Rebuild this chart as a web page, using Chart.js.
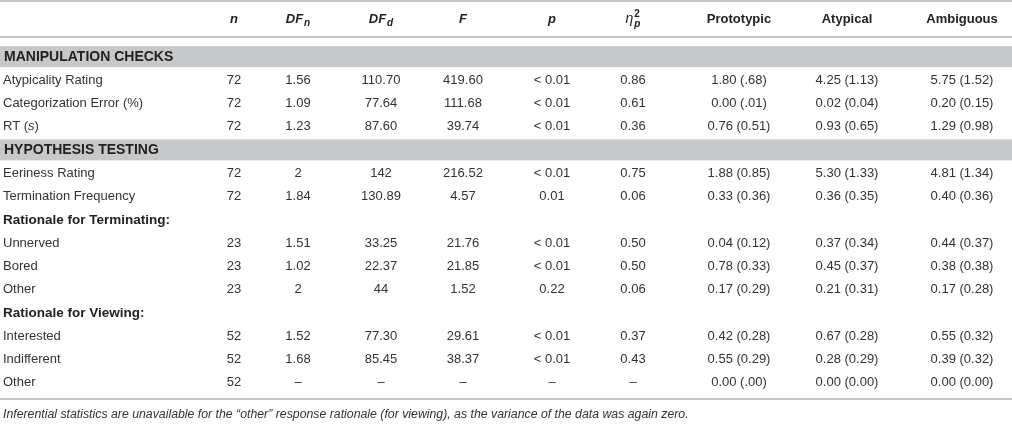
<!DOCTYPE html>
<html>
<head>
<meta charset="utf-8">
<script src="https://cdn.jsdelivr.net/npm/chart.js@4.4.1/dist/chart.umd.min.js"></script>
<style>
  html, body { margin: 0; padding: 0; background: #fff; }
  #wrap { width: 1012px; height: 427px; position: relative; }
</style>
</head>
<body>
<div id="wrap"><canvas id="tbl"></canvas></div>
<script>
// Column headers (markup: _ = subscript, ^ = superscript)
const headerLabels = ['n', 'DF_n', 'DF_d', 'F', 'p', 'η_p^2', 'Prototypic', 'Atypical', 'Ambiguous'];
const headerItalic = [true, true, true, true, true, true, false, false, false];

const sectionTitles = ['MANIPULATION CHECKS', 'HYPOTHESIS TESTING'];

// Row labels (*text* = italic)
const rowNames = [
  'Atypicality Rating', 'Categorization Error (%)', 'RT (*s*)',
  'Eeriness Rating', 'Termination Frequency',
  'Rationale for Terminating:', 'Unnerved', 'Bored', 'Other',
  'Rationale for Viewing:', 'Interested', 'Indifferent', 'Other'
];

const nVals     = ['72', '72', '72', '72', '72', '', '23', '23', '23', '', '52', '52', '52'];
const dfnVals   = ['1.56', '1.09', '1.23', '2', '1.84', '', '1.51', '1.02', '2', '', '1.52', '1.68', '–'];
const dfdVals   = ['110.70', '77.64', '87.60', '142', '130.89', '', '33.25', '22.37', '44', '', '77.30', '85.45', '–'];
const fVals     = ['419.60', '111.68', '39.74', '216.52', '4.57', '', '21.76', '21.85', '1.52', '', '29.61', '38.37', '–'];
const pVals     = ['< 0.01', '< 0.01', '< 0.01', '< 0.01', '0.01', '', '< 0.01', '< 0.01', '0.22', '', '< 0.01', '< 0.01', '–'];
const etaVals   = ['0.86', '0.61', '0.36', '0.75', '0.06', '', '0.50', '0.50', '0.06', '', '0.37', '0.43', '–'];
const protoVals = ['1.80 (.68)', '0.00 (.01)', '0.76 (0.51)', '1.88 (0.85)', '0.33 (0.36)', '', '0.04 (0.12)', '0.78 (0.33)', '0.17 (0.29)', '', '0.42 (0.28)', '0.55 (0.29)', '0.00 (.00)'];
const atypVals  = ['4.25 (1.13)', '0.02 (0.04)', '0.93 (0.65)', '5.30 (1.33)', '0.36 (0.35)', '', '0.37 (0.34)', '0.45 (0.37)', '0.21 (0.31)', '', '0.67 (0.28)', '0.28 (0.29)', '0.00 (0.00)'];
const ambVals   = ['5.75 (1.52)', '0.20 (0.15)', '1.29 (0.98)', '4.81 (1.34)', '0.40 (0.36)', '', '0.44 (0.37)', '0.38 (0.38)', '0.17 (0.28)', '', '0.55 (0.32)', '0.39 (0.32)', '0.00 (0.00)'];

const footnote = 'Inferential statistics are unavailable for the “other” response rationale (for viewing), as the variance of the data was again zero.';

// --- layout ---
const FONT = '"Liberation Sans", Arial, Helvetica, sans-serif';
const TEXT = '#333333';
const RULE = '#c6c6c6';
const BAND = '#c7c8ca';
const colX = [234, 298, 381, 463, 552, 633, 739, 847, 962];
const labelX = 3;
// y axis runs in row slots; section bands take slots -1 and 3
const sectionSlots = [-1, 3];
const rowSlot = i => (i < 3 ? i : i + 1);
const headerSlot = -2.62;
const ruleSlots = [-3.39, -1.845, 13.71];
const footSlot = 14.36;

const columns = [nVals, dfnVals, dfdVals, fVals, pVals, etaVals, protoVals, atypVals, ambVals];

const datasets = [{
  label: 'rows',
  data: rowNames.map((t, i) => ({ x: labelX, y: rowSlot(i), text: t })),
  align: 'left'
}].concat(columns.map((vals, c) => ({
  label: headerLabels[c],
  data: vals.map((t, i) => ({ x: colX[c], y: rowSlot(i), text: t })),
  align: 'center'
})));

function font(size, bold, italic) {
  return `${italic ? 'italic ' : ''}${bold ? 'bold ' : ''}${size}px ${FONT}`;
}

// draws "*italic*" markup text
function drawRich(ctx, str, x, y, size, bold, align) {
  const parts = str.split('*').map((t, k) => ({ t, it: k % 2 === 1 })).filter(p => p.t);
  let w = 0;
  parts.forEach(p => { ctx.font = font(size, bold, p.it); p.w = ctx.measureText(p.t).width; w += p.w; });
  let cx = align === 'left' ? x : x - w / 2;
  ctx.textAlign = 'left';
  parts.forEach(p => { ctx.font = font(size, bold, p.it); ctx.fillText(p.t, cx, y); cx += p.w; });
}

function drawHeader(ctx, label, italic, x, y) {
  const m = label.match(/^([^_^]+)(?:_([^_^]+))?(?:\^(.+))?$/);
  const base = m[1], sub = m[2], sup = m[3];
  const isEta = base === 'η';
  const bf = font(isEta ? 14 : 13, !isEta, italic);
  const sf = font(10, true, italic);
  const supf = font(10, true, false);
  ctx.font = bf; const bw = ctx.measureText(base).width;
  let sw = 0;
  if (sub) { ctx.font = sf; sw = Math.max(sw, ctx.measureText(sub).width); }
  if (sup) { ctx.font = supf; sw = Math.max(sw, ctx.measureText(sup).width); }
  const gap = sub || sup ? 1 : 0;
  let cx = x - (bw + gap + sw) / 2;
  ctx.textAlign = 'left';
  ctx.font = bf; ctx.fillText(base, cx, y);
  cx += bw + gap;
  if (sub) { ctx.font = sf; ctx.fillText(sub, cx, y + (sup ? 5 : 4)); }
  if (sup) { ctx.font = supf; ctx.fillText(sup, cx, y - 5); }
}

const tablePlugin = {
  id: 'tablePlugin',
  beforeDatasetsDraw(chart) {
    const { ctx, scales: { y }, width } = chart;
    ctx.save();
    ctx.fillStyle = '#fff';
    ctx.fillRect(0, 0, width, chart.height);
    // section bands
    sectionSlots.forEach((s, k) => {
      const top = y.getPixelForValue(s - 0.45);
      const bot = y.getPixelForValue(s + 0.45);
      ctx.fillStyle = BAND;
      ctx.fillRect(0, top, width, bot - top);
      ctx.fillStyle = '#222';
      ctx.textBaseline = 'middle';
      ctx.textAlign = 'left';
      ctx.font = font(14, true, false);
      ctx.fillText(sectionTitles[k], labelX + 1, y.getPixelForValue(s) + 0.5);
    });
    // horizontal rules
    ctx.strokeStyle = RULE;
    ctx.lineWidth = 2;
    ruleSlots.forEach(s => {
      const py = Math.round(y.getPixelForValue(s));
      ctx.beginPath(); ctx.moveTo(0, py); ctx.lineTo(width, py); ctx.stroke();
    });
    ctx.restore();
  },
  afterDatasetsDraw(chart) {
    const { ctx, scales: { y } } = chart;
    ctx.save();
    ctx.textBaseline = 'middle';
    ctx.fillStyle = '#222';
    const hy = y.getPixelForValue(headerSlot);
    headerLabels.forEach((h, c) => drawHeader(ctx, h, headerItalic[c], colX[c], hy));
    chart.data.datasets.forEach((ds, d) => {
      const meta = chart.getDatasetMeta(d);
      meta.data.forEach((el, i) => {
        const t = ds.data[i].text;
        if (!t) return;
        const bold = d === 0 && t.endsWith(':');
        ctx.fillStyle = bold ? '#222' : TEXT;
        drawRich(ctx, t, el.x, el.y, bold ? 13.5 : 13, bold, ds.align);
      });
    });
    ctx.fillStyle = TEXT;
    ctx.textAlign = 'left';
    ctx.font = font(12.3, false, true);
    ctx.fillText(footnote, labelX, y.getPixelForValue(footSlot));
    ctx.restore();
  }
};

new Chart(document.getElementById('tbl'), {
  type: 'scatter',
  data: { datasets },
  options: {
    responsive: true,
    maintainAspectRatio: false,
    animation: false,
    events: [],
    layout: { padding: 0 },
    elements: { point: { radius: 0, hoverRadius: 0 } },
    plugins: { legend: { display: false }, tooltip: { enabled: false } },
    scales: {
      x: { type: 'linear', min: 0, max: 1012, display: false },
      y: { type: 'linear', min: -3.433, max: 14.893, reverse: true, display: false }
    }
  },
  plugins: [tablePlugin]
});
</script>
</body>
</html>
